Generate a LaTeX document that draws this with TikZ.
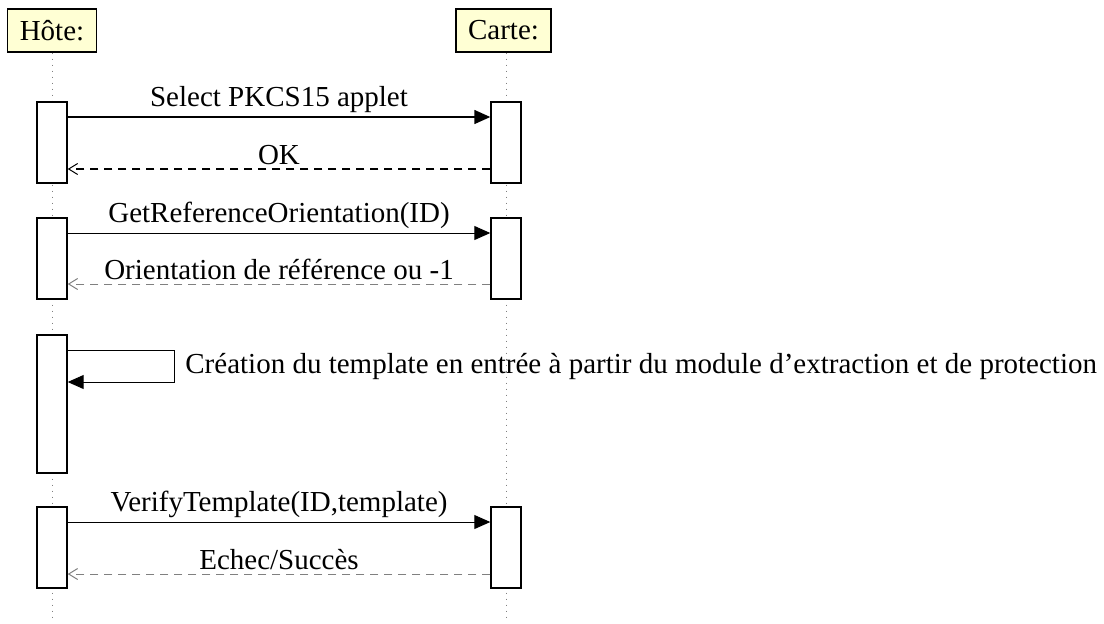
\documentclass[tikz,border=0pt]{standalone}
\usepackage{fontspec}
\setmainfont{Liberation Serif}
\usetikzlibrary{arrows.meta}

\definecolor{headfill}{HTML}{FFFFD4}

\tikzset{
  head/.style={draw, line width=0.7pt, fill=headfill, inner xsep=6pt,
    minimum height=21.5pt, font=\fontsize{14.5}{16}\selectfont},
  lifeline/.style={gray, line width=0.5pt, dash pattern=on 0.5pt off 2.5pt},
  act/.style={draw, line width=0.7pt, fill=white, minimum width=15pt, inner sep=0pt},
  call/.style={line width=0.5pt, -{Triangle[length=8pt,width=7pt]}},
  reply/.style={line width=0.5pt, dash pattern=on 4pt off 3pt,
    -{Straight Barb[length=4.5pt,width=5.5pt,line width=0.5pt]}},
  msg/.style={above, inner sep=2pt, font=\fontsize{14.5}{16}\selectfont}
}

\begin{document}
\begin{tikzpicture}[x=0.5pt, y=-0.5pt]
  \useasboundingbox (0,0) rectangle (1104,623);

  % heads
  \node[head] (host) at (52,30.5) {Hôte:};
  \node[head] (card) at (503.5,30.5) {Carte:};

  % lifelines
  \coordinate (hostend) at (52,621);
  \coordinate (cardend) at (506,621);
  \draw[lifeline] (host.south -| hostend) -- (hostend);
  \draw[lifeline] (card.south -| cardend) -- (cardend);

  % activations
  \node[act, minimum height=40.5pt] (h1) at (52,142.5) {};
  \node[act, minimum height=40.5pt] (c1) at (506,142.5) {};
  \node[act, minimum height=40.5pt] (h2) at (52,258.5) {};
  \node[act, minimum height=40.5pt] (c2) at (506,258.5) {};
  \node[act, minimum height=69pt] (h3) at (52,404) {};
  \node[act, minimum height=40.5pt] (h4) at (52,547.5) {};
  \node[act, minimum height=40.5pt] (c4) at (506,547.5) {};

  % message levels
  \coordinate (m1) at (0,117);
  \coordinate (r1) at (0,169);
  \coordinate (m2) at (0,233);
  \coordinate (r2) at (0,284);
  \coordinate (s3) at (0,350);
  \coordinate (t3) at (0,382);
  \coordinate (m4) at (0,522);
  \coordinate (r4) at (0,574);
  \coordinate (turn) at (174,366);

  % select
  \draw[call, line width=0.7pt] (h1.east |- m1) -- node[msg] {Select PKCS15 applet} (c1.west |- m1);
  \draw[reply, line width=0.7pt] (c1.west |- r1) -- node[msg] {OK} (h1.east |- r1);

  % orientation
  \draw[call] (h2.east |- m2) -- node[msg] {GetReferenceOrientation(ID)} (c2.west |- m2);
  \draw[reply, gray] (c2.west |- r2) -- node[msg, black] {Orientation de référence ou -1} (h2.east |- r2);

  % template
  \draw[call] (h3.east |- s3) -| (turn |- t3) -- (h3.east |- t3);
  \node[anchor=west, inner sep=0pt, font=\fontsize{14.5}{16}\selectfont] (create) at ([xshift=5.5pt]turn)
    {Création du template en entrée à partir du module d’extraction et de protection};

  % verify
  \draw[call] (h4.east |- m4) -- node[msg] {VerifyTemplate(ID,template)} (c4.west |- m4);
  \draw[reply, gray] (c4.west |- r4) -- node[msg, black] {Echec/Succès} (h4.east |- r4);
\end{tikzpicture}
\end{document}
